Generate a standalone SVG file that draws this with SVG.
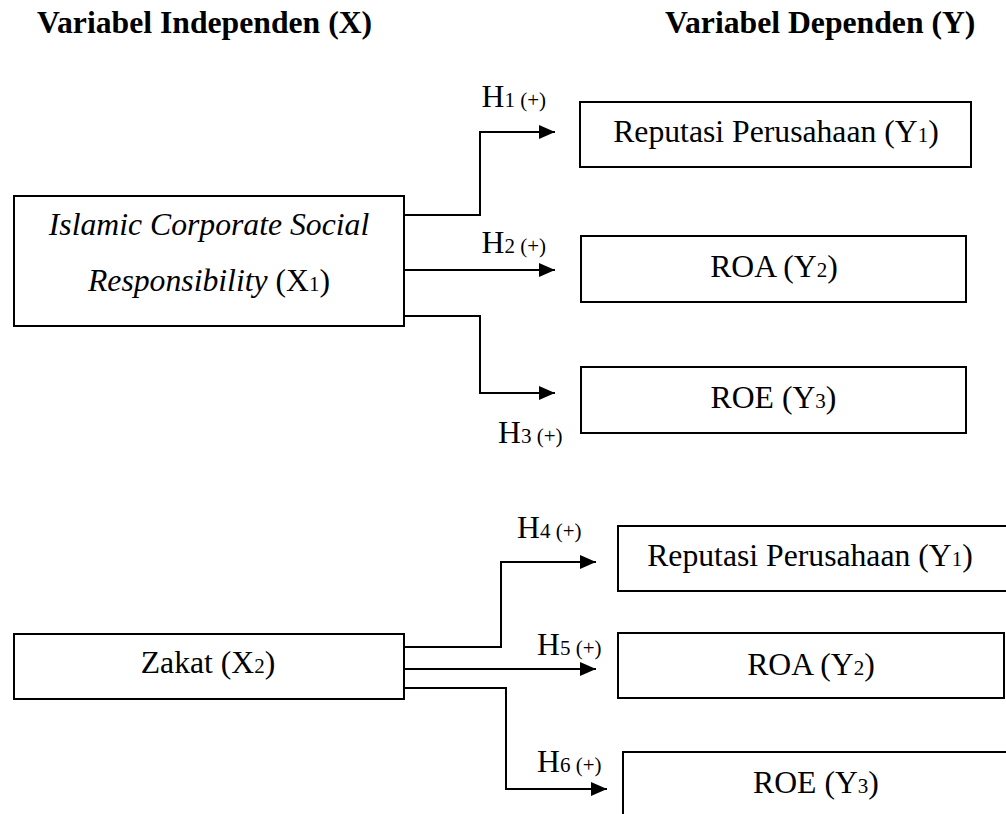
<svg xmlns="http://www.w3.org/2000/svg" width="1006" height="814" viewBox="0 0 1006 814">
<style>
text{font-family:"Liberation Serif","Times New Roman",serif;fill:#000;}
.hd{font-size:31.7px;font-weight:bold;}
.t{font-size:31.7px;text-anchor:middle;}
.i{font-style:italic;}
.s{font-size:21px;}
.h{font-size:31.7px;}
.box{fill:#fff;stroke:#000;stroke-width:2;}
.ln{fill:none;stroke:#000;stroke-width:2;marker-end:url(#arr);}
</style>
<defs>
<marker id="arr" viewBox="0 0 16 14" refX="16" refY="7" markerUnits="userSpaceOnUse" markerWidth="16" markerHeight="14" orient="auto">
<path d="M0,0 L16,7 L0,14 z" fill="#000"/>
</marker>
</defs>
<rect width="1006" height="814" fill="#fff"/>
<g id="headings">
<text class="hd" x="37" y="33">Variabel Independen (X)</text>
<text class="hd" x="665" y="33">Variabel Dependen (Y)</text>
</g>
<g id="connectors">
<path class="ln" d="M404,215 H480 V132 H555"/>
<path class="ln" d="M404,270 H555"/>
<path class="ln" d="M404,316 H480 V393 H555"/>
<path class="ln" d="M404,647 H501 V562 H596"/>
<path class="ln" d="M404,669 H596"/>
<path class="ln" d="M404,688 H506 V789 H607"/>
</g>
<g id="labels">
<text class="h" x="481.5" y="107">H<tspan class="s">1 (+)</tspan></text>
<text class="h" x="481.5" y="253">H<tspan class="s">2 (+)</tspan></text>
<text class="h" x="498" y="443">H<tspan class="s">3 (+)</tspan></text>
<text class="h" x="517" y="538">H<tspan class="s">4 (+)</tspan></text>
<text class="h" x="537" y="655">H<tspan class="s">5 (+)</tspan></text>
<text class="h" x="537" y="772">H<tspan class="s">6 (+)</tspan></text>
</g>
<g id="icsr">
<rect class="box" x="14" y="196" width="390" height="130"/>
<text class="t i" x="209" y="235">Islamic Corporate Social</text>
<text class="t" x="209" y="291"><tspan class="i">Responsibility</tspan> (X<tspan class="s">1</tspan>)</text>
</g>
<g id="zakat">
<rect class="box" x="14" y="634" width="390" height="65"/>
<text class="t" x="208" y="673">Zakat (X<tspan class="s">2</tspan>)</text>
</g>
<g id="y1a">
<rect class="box" x="580" y="102" width="391" height="65"/>
<text class="t" x="776" y="142">Reputasi Perusahaan (Y<tspan class="s">1</tspan>)</text>
</g>
<g id="y2a">
<rect class="box" x="581" y="236" width="385" height="66"/>
<text class="t" x="774" y="277">ROA (Y<tspan class="s">2</tspan>)</text>
</g>
<g id="y3a">
<rect class="box" x="581" y="367" width="385" height="66"/>
<text class="t" x="773.5" y="408">ROE (Y<tspan class="s">3</tspan>)</text>
</g>
<g id="y1b">
<rect class="box" x="618" y="526" width="400" height="65"/>
<text class="t" x="810" y="566">Reputasi Perusahaan (Y<tspan class="s">1</tspan>)</text>
</g>
<g id="y2b">
<rect class="box" x="618" y="633" width="386" height="65"/>
<text class="t" x="811" y="675">ROA (Y<tspan class="s">2</tspan>)</text>
</g>
<g id="y3b">
<rect class="box" x="623" y="752" width="400" height="80"/>
<text class="t" x="816" y="793">ROE (Y<tspan class="s">3</tspan>)</text>
</g>
</svg>
